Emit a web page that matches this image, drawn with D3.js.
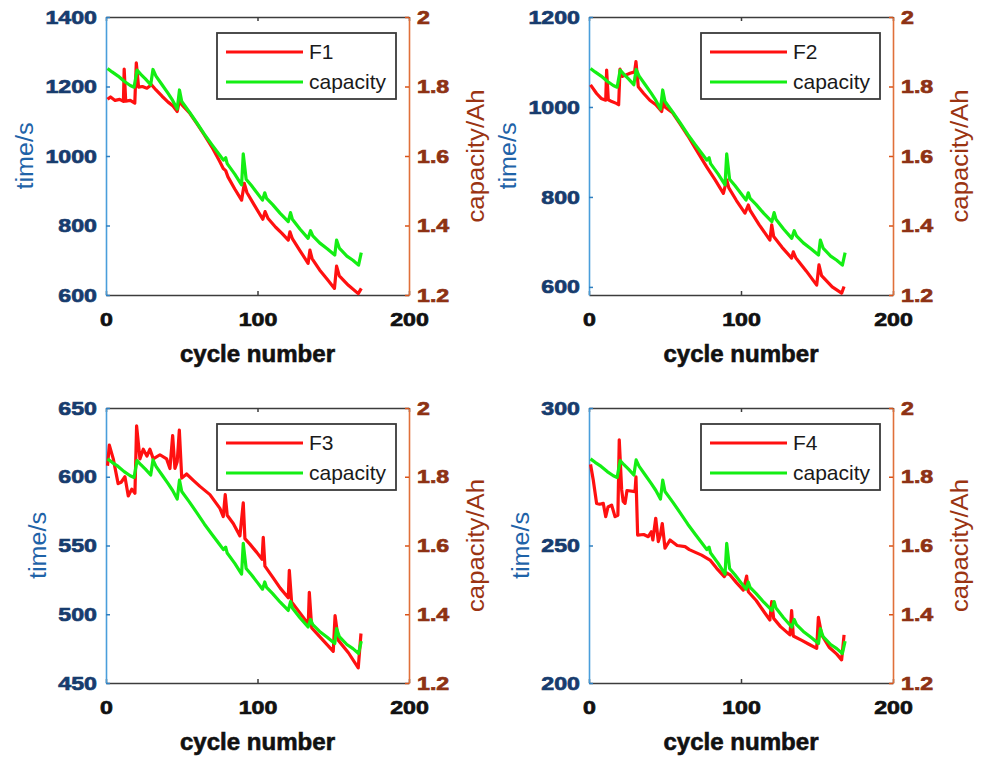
<!DOCTYPE html>
<html>
<head>
<meta charset="utf-8">
<script src="https://cdn.jsdelivr.net/npm/d3@7"></script>
<style>
  body { margin: 0; background: #fff; }
  svg text { font-family: "Liberation Sans", Arial, sans-serif; }
</style>
</head>
<body>
<div id="chart"></div>
<script>
// capacity curve (right axis, Ah) - same battery in every panel
var capCycle = [1, 4, 8, 12, 16, 18.5, 20.5, 23, 26, 29.5, 31, 33, 37, 41, 44, 47, 48.5, 50, 55, 60, 65, 70, 75, 77.5, 79, 80, 85, 89.5, 90.6, 92.5, 96, 100, 103.3, 104.8, 106, 110, 115, 120.3, 121.8, 123, 128, 133.4, 135, 136.5, 141, 146, 151, 152.2, 154, 159, 163, 166.7, 168.5];
var capValue = [1.852, 1.842, 1.83, 1.815, 1.803, 1.798, 1.847, 1.835, 1.822, 1.805, 1.849, 1.83, 1.805, 1.78, 1.76, 1.735, 1.79, 1.757, 1.727, 1.695, 1.662, 1.632, 1.603, 1.588, 1.595, 1.578, 1.548, 1.517, 1.606, 1.533, 1.515, 1.492, 1.473, 1.494, 1.478, 1.46, 1.435, 1.411, 1.437, 1.418, 1.39, 1.363, 1.385, 1.37, 1.35, 1.333, 1.315, 1.358, 1.335, 1.312, 1.3, 1.286, 1.322];

// F1..F4 time features (left axis, s)
var f1Cycle = [1, 3, 6, 9, 11.5, 12, 13, 16, 19, 20, 21.5, 24, 27, 30, 33, 37, 41, 44, 47, 48.8, 50, 55, 60, 65, 70, 75, 77.4, 79, 80.5, 85, 89.5, 91.3, 93, 98, 103.5, 105, 107, 112, 116, 120.3, 121.4, 123, 128, 133.4, 134.6, 136, 141, 146, 150.8, 152.2, 154, 160, 166.5, 168.5];
var f1Time = [1163, 1170, 1160, 1163, 1157, 1250, 1158, 1160, 1152, 1268, 1198, 1200, 1195, 1205, 1190, 1172, 1155, 1145, 1128, 1166, 1148, 1125, 1093, 1060, 1025, 985, 964, 958, 940, 905, 873, 921, 895, 858, 818, 840, 820, 795, 778, 758, 782, 762, 728, 691, 729, 705, 672, 645, 619, 683, 655, 628, 604, 619];

var f2Cycle = [1, 5, 8, 11, 11.6, 12.7, 15, 18, 19.5, 20.4, 22, 27, 30, 30.9, 32.4, 36, 40, 44, 47.8, 48.9, 50, 55, 60, 65, 70, 75, 77.4, 83, 88.4, 90.6, 92, 97, 102.6, 104.8, 106, 112, 119, 120.2, 121.5, 127, 133.3, 134.4, 136, 143, 149.8, 151.3, 153, 160, 166.2, 167.8];
var f2Time = [1049, 1030, 1019, 1015, 1082, 1016, 1012, 1008, 1005, 1084, 1068, 1075, 1078, 1101, 1045, 1030, 1015, 1005, 990, 1012, 1000, 987, 962, 936, 908, 880, 867, 838, 808, 838, 820, 792, 764, 782, 770, 738, 704, 738, 712, 688, 664, 678, 665, 635, 604, 649, 625, 600, 586, 601];

var f3Cycle = [1, 2.2, 4.8, 8, 10, 12.5, 14.7, 17, 19.1, 20.2, 22.4, 24.6, 27, 29, 31.2, 35.6, 40, 42.2, 44, 45.5, 47, 48.4, 50, 53.2, 58, 62, 68.6, 75.2, 77.4, 78.7, 80, 84, 88.4, 90.6, 91.7, 95, 99.5, 103, 103.8, 104.9, 110, 115, 120.3, 121, 122.5, 128, 133.5, 134.2, 135.8, 140, 145, 150, 151.2, 153.4, 160, 166.5, 168.3];
var f3Time = [608, 623, 613, 595, 596, 600, 586, 591, 588, 637, 613, 620, 615, 620, 613, 616, 613, 606, 630, 606, 611, 634, 599, 602, 597, 593, 587, 577, 571, 587, 572, 566, 557, 581, 555, 551, 545, 540, 556, 535, 527, 519, 512, 532, 509, 501, 493, 516, 490, 485, 479, 473, 499, 481, 472, 461, 486];

var f4Cycle = [1, 2.8, 5, 7, 9.4, 11, 12.5, 14.9, 17.1, 19, 19.9, 21.5, 22.5, 23.7, 25, 30.3, 30.9, 32, 36, 39, 41, 42, 43.9, 45.6, 47, 48.2, 50, 53.3, 58, 63.2, 66, 70, 74.1, 79.6, 84, 89, 90.5, 92.8, 97, 101.5, 103.7, 104.8, 110, 115, 119, 120.2, 121.5, 126, 132.2, 133.3, 134.4, 140, 145, 149.8, 150.9, 153.1, 158, 163, 166.2, 167.8];
var f4Time = [279.5, 273.8, 265.3, 265, 265.3, 260.5, 264, 264.7, 260.5, 261, 288.4, 270.2, 266, 265.3, 270, 269.6, 275, 253.8, 254, 253.2, 255, 252, 259.9, 251.4, 254, 258, 249, 252, 250, 249.6, 248.5, 247.5, 246.5, 244.7, 241.7, 238.7, 240, 239.3, 236.5, 233.8, 238.9, 233.2, 230, 226, 222.9, 229.6, 223.5, 220.5, 217.5, 226.3, 217.1, 215.5, 214, 212.6, 223.9, 217.5, 213, 210.5, 208.4, 217.5];

var xTicks = [0, 100, 200];
var capTicks = [1.2, 1.4, 1.6, 1.8, 2];

var panels = [
  {name: "F1", cyc: f1Cycle, val: f1Time, left: 106, top: 17, w: 303, h: 278, yDomain: [600, 1400], yTicks: [600, 800, 1000, 1200, 1400]},
  {name: "F2", cyc: f2Cycle, val: f2Time, left: 589, top: 17, w: 304, h: 278, yDomain: [582, 1200], yTicks: [600, 800, 1000, 1200]},
  {name: "F3", cyc: f3Cycle, val: f3Time, left: 106, top: 408, w: 303, h: 275, yDomain: [450, 650], yTicks: [450, 500, 550, 600, 650]},
  {name: "F4", cyc: f4Cycle, val: f4Time, left: 589, top: 408, w: 304, h: 275, yDomain: [200, 300], yTicks: [200, 250, 300]}
];

var svg = d3.select("#chart")
  .append("svg")
    .attr("width", 982)
    .attr("height", 759);

// widen + thicken the bold tick labels, the original font is broad and heavy
function heavy(sel, k, color) {
  sel.attr("fill", color)
    .attr("stroke", color)
    .attr("stroke-width", 0.7)
    .style("font-size", "19px")
    .style("font-weight", "bold");
  sel.each(function() {
    var len = this.getComputedTextLength();
    d3.select(this).attr("textLength", len * k).attr("lengthAdjust", "spacingAndGlyphs");
  });
}

panels.forEach(function(p) {
  var g = svg.append("g").attr("transform", "translate(" + p.left + "," + p.top + ")");

  var x = d3.scaleLinear().domain([0, 200]).range([0, p.w]);
  var y = d3.scaleLinear().domain(p.yDomain).range([p.h, 0]);
  var y2 = d3.scaleLinear().domain([1.2, 2]).range([p.h, 0]);

  // bottom axis
  var xa = g.append("g")
    .attr("transform", "translate(0," + p.h + ")")
    .call(d3.axisBottom(x).tickValues(xTicks).tickSize(-4).tickSizeOuter(0).tickPadding(18).tickFormat(d3.format("d")));
  // top box line
  g.append("g")
    .call(d3.axisTop(x).tickValues(xTicks).tickSize(-4).tickSizeOuter(0).tickFormat(""));
  g.selectAll(".domain").attr("stroke", "#3c3c3c").attr("stroke-width", 1.6);
  g.selectAll(".tick line").attr("stroke", "#3c3c3c").attr("stroke-width", 1.5);
  xa.selectAll("text").call(heavy, 1.22, "#111");

  // left axis
  var ya = g.append("g")
    .call(d3.axisLeft(y).tickValues(p.yTicks).tickSize(-4).tickSizeOuter(0).tickPadding(9).tickFormat(d3.format("d")));
  ya.select(".domain").attr("stroke", "#4a9edb").attr("stroke-width", 1.6);
  ya.selectAll(".tick line").attr("stroke", "#2f7fc0").attr("stroke-width", 1.5);
  ya.selectAll("text").call(heavy, 1.22, "#173c6e");

  // right axis
  var ra = g.append("g")
    .attr("transform", "translate(" + p.w + ",0)")
    .call(d3.axisRight(y2).tickValues(capTicks).tickSize(-4).tickSizeOuter(0).tickPadding(8).tickFormat(d3.format("~")));
  ra.select(".domain").attr("stroke", "#e0703a").attr("stroke-width", 1.6);
  ra.selectAll(".tick line").attr("stroke", "#d95319").attr("stroke-width", 1.5);
  ra.selectAll("text").call(heavy, 1.22, "#8e3214");

  // curves
  var capLine = d3.line().x(function(d, i) { return x(capCycle[i]); }).y(function(d) { return y2(d); });
  var fLine = d3.line().x(function(d, i) { return x(p.cyc[i]); }).y(function(d) { return y(d); });

  g.append("path")
    .datum(p.val)
    .attr("d", fLine)
    .attr("fill", "none")
    .attr("stroke", "#ff1010")
    .attr("stroke-width", 3.2)
    .attr("stroke-linejoin", "round");

  // green goes over red where they overlap
  g.append("path")
    .datum(capValue)
    .attr("d", capLine)
    .attr("fill", "none")
    .attr("stroke", "#14ee14")
    .attr("stroke-width", 3.2)
    .attr("stroke-linejoin", "round");

  // axis titles
  var bb = ya.node().getBBox();
  g.append("text")
    .attr("transform", "translate(" + (bb.x - 20) + "," + (p.h / 2) + ") rotate(-90)")
    .attr("text-anchor", "middle")
    .attr("dominant-baseline", "central")
    .attr("fill", "#1f63a8")
    .attr("textLength", 67)
    .attr("lengthAdjust", "spacingAndGlyphs")
    .style("font-size", "23px")
    .text("time/s");

  g.append("text")
    .attr("transform", "translate(" + (p.w + 67) + "," + (p.h / 2) + ") rotate(-90)")
    .attr("text-anchor", "middle")
    .attr("dominant-baseline", "central")
    .attr("fill", "#9a3412")
    .attr("textLength", 133)
    .attr("lengthAdjust", "spacingAndGlyphs")
    .style("font-size", "23px")
    .text("capacity/Ah");

  g.append("text")
    .attr("x", p.w / 2)
    .attr("y", p.h + 59)
    .attr("text-anchor", "middle")
    .attr("dominant-baseline", "central")
    .attr("fill", "#111")
    .attr("stroke", "#111")
    .attr("stroke-width", 0.6)
    .attr("textLength", 155)
    .attr("lengthAdjust", "spacingAndGlyphs")
    .style("font-size", "23px")
    .style("font-weight", "bold")
    .text("cycle number");

  // legend
  var lg = g.append("g").attr("transform", "translate(" + (p.w - 192) + ",16)");
  lg.append("rect")
    .attr("width", 179)
    .attr("height", 66)
    .attr("fill", "#fff")
    .attr("stroke", "#3a3a3a")
    .attr("stroke-width", 1.8);
  var items = [{label: p.name, color: "#ff1010"}, {label: "capacity", color: "#14ee14"}];
  items.forEach(function(it, i) {
    var yy = 19 + i * 30;
    lg.append("line")
      .attr("x1", 9).attr("x2", 86)
      .attr("y1", yy).attr("y2", yy)
      .attr("stroke", it.color)
      .attr("stroke-width", 3.2);
    lg.append("text")
      .attr("x", 92)
      .attr("y", yy + 7)
      .attr("fill", "#1a1a1a")
      .style("font-size", "21px")
      .text(it.label);
  });
});
</script>
</body>
</html>
